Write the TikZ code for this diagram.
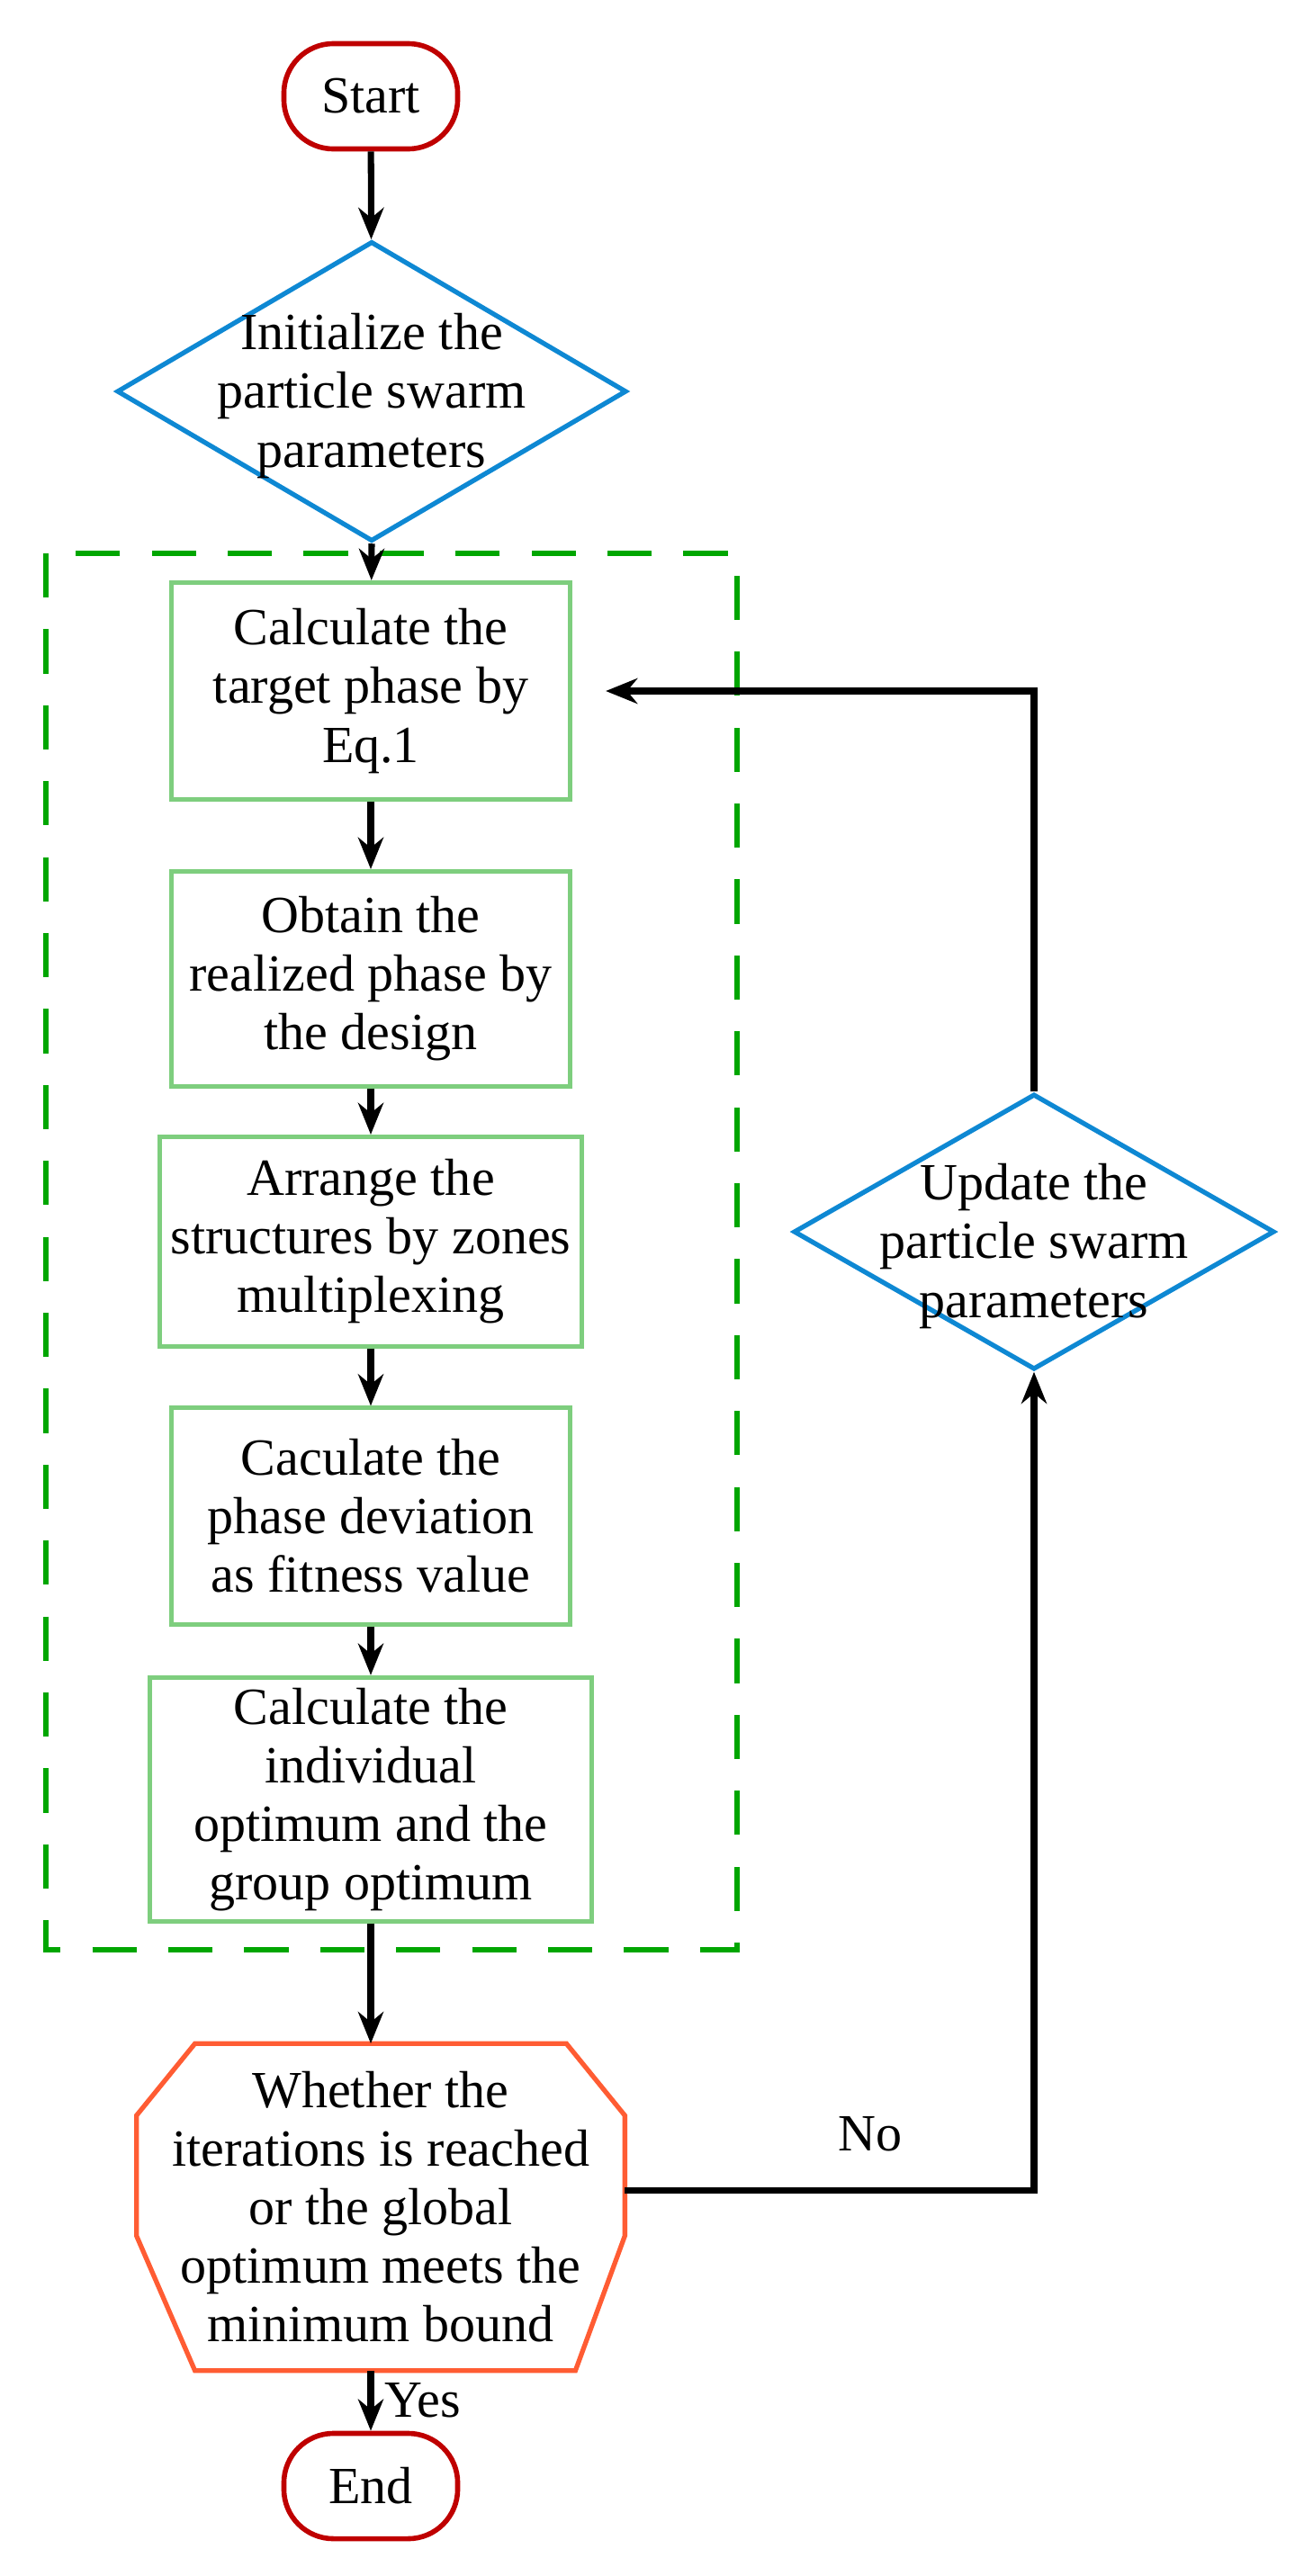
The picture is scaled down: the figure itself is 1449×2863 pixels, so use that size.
\documentclass[tikz,border=0pt]{standalone}
\usepackage{fontspec}
\setmainfont{Liberation Serif}
\usetikzlibrary{shapes,arrows.meta,positioning,calc}

\begin{document}
\begin{tikzpicture}[x=0.01cm, y=-0.01cm,
    term/.style={rectangle, rounded corners=0.55cm, draw=red!75!black, line width=1.6pt, minimum width=1.93cm, minimum height=1.17cm, font=\fontsize{16.5}{18.5}\selectfont},
    dia/.style={diamond, draw=cyan!70!blue, line width=1.5pt, inner sep=0pt},
    procbox/.style={rectangle, draw=green!45!gray!70, line width=1.4pt, minimum width=4.43cm, align=center, font=\fontsize{16.5}{18.5}\selectfont},
    txt/.style={align=center, font=\fontsize{16.5}{18.5}\selectfont},
    arrow/.style={-{Stealth[length=10pt,width=8pt]}, line width=2pt}
]
    \useasboundingbox (0,0) rectangle (1449,2863);

    % Start and initialization
    \node[term] (start) at (412,107) {Start};
    \node[dia, minimum width=5.66cm, minimum height=3.33cm] (init) at (413,435) {};
    \node[txt] (inittxt) at (413,440) {Initialize the\\particle swarm\\parameters};

    % PSO loop body
    \draw[green!65!black, line width=1.5pt, dash pattern=on 14pt off 10pt] (51,615) rectangle (819,2167);
    \node[procbox, minimum height=2.41cm] (target) at (412,768) {Calculate the\\target phase by\\Eq.1};
    \node[procbox, minimum height=2.39cm] (realize) at (412,1088) {Obtain the\\realized phase by\\the design};
    \node[procbox, minimum height=2.33cm] (arrange) at (412,1380) {Arrange the\\structures by zones\\multiplexing};
    \node[procbox, minimum height=2.40cm] (fitness) at (412,1685) {Caculate the\\phase deviation\\as fitness value};
    \node[procbox, minimum width=4.90cm, minimum height=2.67cm] (optimum) at (412,2000) {Calculate the\\individual\\optimum and the\\group optimum};

    % Update step
    \node[dia, minimum width=5.34cm, minimum height=3.06cm] (update) at (1149,1369) {};
    \node[txt] (updatetxt) at (1149,1385) {Update the\\particle swarm\\parameters};

    % Termination check
    \node[rectangle, minimum width=5.41cm, minimum height=3.62cm, inner sep=0pt] (check) at (423,2453) {};
    \draw[red!60!orange!80, line width=1.5pt]
        ($(check.north west)+(65,0)$) -- ($(check.north east)+(-65,0)$) -- ($(check.north east)+(0,80)$)
        -- ($(check.south east)+(0,-150)$) -- ($(check.south east)+(-55,0)$) -- ($(check.south west)+(65,0)$)
        -- ($(check.south west)+(0,-150)$) -- ($(check.north west)+(0,80)$) -- cycle;
    \node[txt] (checktxt) at (423,2453) {Whether the\\iterations is reached\\or the global\\optimum meets the\\minimum bound};
    \node[term] (end) at (412,2763) {End};

    % Arrows
    \draw[arrow] (start) -- (init);
    \draw[arrow] (init.south) -- (target);
    \draw[arrow] (target) -- (realize);
    \draw[arrow] (realize) -- (arrange);
    \draw[arrow] (arrange) -- (fitness);
    \draw[arrow] (fitness) -- (optimum);
    \draw[arrow] (optimum) -- (check.north -| optimum);
    \draw[arrow] (check.south -| end) -- (end) node[midway, right, txt] {Yes};
    \draw[arrow] (check.east |- 0,2434) -| (update.south) node[pos=0.3, above=8pt, txt] {No};
    \draw[arrow, shorten >=0.37cm] (update.north) |- (target.east);
\end{tikzpicture}
\end{document}
